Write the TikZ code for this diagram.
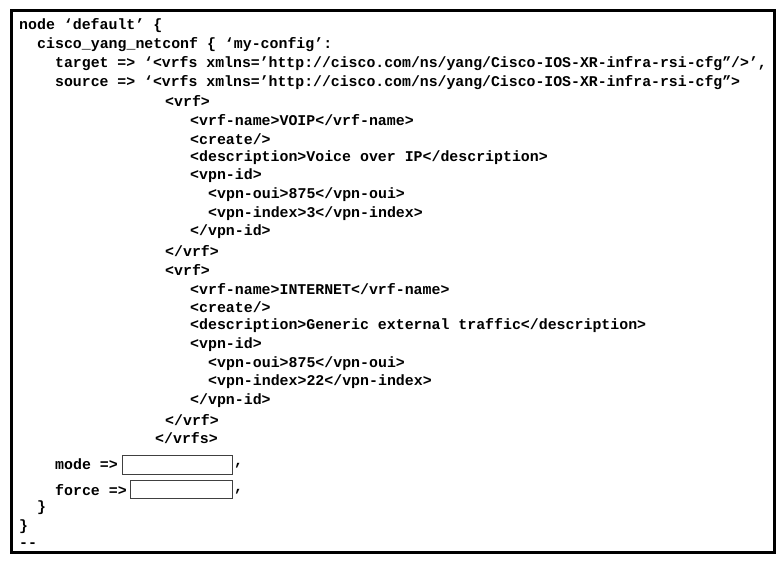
\documentclass[tikz,border=0pt]{standalone}
\usepackage{fontspec}
\newfontfamily\codefont{Liberation Mono}
\begin{document}
\begin{tikzpicture}[x=1pt,y=-1pt,
  ln/.style={anchor=west,inner sep=0pt,font=\codefont\bfseries\fontsize{14.9}{18}\selectfont},
  blank/.style={draw=black!75,line width=0.9pt}]
\useasboundingbox (0,0) rectangle (784,564);
\draw[line width=3pt] (11,11) rectangle (774,552);
\node[ln] (l1) at (19,26) {node ‘default’ \{};
\node[ln] (l2) at (37,45) {cisco\_yang\_netconf \{ ‘my-config’:};
\node[ln,xscale=0.995] (l3) at (55,64) {target => ‘<vrfs xmlns=’http://cisco.com/ns/yang/Cisco-IOS-XR-infra-rsi-cfg”/>’,};
\node[ln,xscale=0.995] (l4) at (55,83) {source => ‘<vrfs xmlns=’http://cisco.com/ns/yang/Cisco-IOS-XR-infra-rsi-cfg”>};
\node[ln] (l5) at (165,101) {<vrf>};
\node[ln] (l6) at (190,120) {<vrf-name>VOIP</vrf-name>};
\node[ln] (l7) at (190,139) {<create/>};
\node[ln] (l8) at (190,158) {<description>Voice over IP</description>};
\node[ln] (l9) at (190,176) {<vpn-id>};
\node[ln] (l10) at (208,195) {<vpn-oui>875</vpn-oui>};
\node[ln] (l11) at (208,214) {<vpn-index>3</vpn-index>};
\node[ln] (l12) at (190,232) {</vpn-id>};
\node[ln] (l13) at (165,251) {</vrf>};
\node[ln] (l14) at (165,270) {<vrf>};
\node[ln] (l15) at (190,289) {<vrf-name>INTERNET</vrf-name>};
\node[ln] (l16) at (190,307) {<create/>};
\node[ln] (l17) at (190,326) {<description>Generic external traffic</description>};
\node[ln] (l18) at (190,345) {<vpn-id>};
\node[ln] (l19) at (208,364) {<vpn-oui>875</vpn-oui>};
\node[ln] (l20) at (208,382) {<vpn-index>22</vpn-index>};
\node[ln] (l21) at (190,401) {</vpn-id>};
\node[ln] (l22) at (165,420) {</vrf>};
\node[ln] (l23) at (155,438) {</vrfs>};
\node[ln] (mode) at (55,464) {mode =>};
\draw[blank] (122,455) rectangle (232,474);
\node[ln] (c1) at (234,466) {,};
\node[ln] (force) at (55,490) {force =>};
\draw[blank] (130,480) rectangle (232,498);
\node[ln] (c2) at (234,492) {,};
\node[ln] (b1) at (37,508) {\}};
\node[ln] (b2) at (19,527) {\}};
\node[ln] (dd) at (19,545) {-{}-};
\end{tikzpicture}
\end{document}
